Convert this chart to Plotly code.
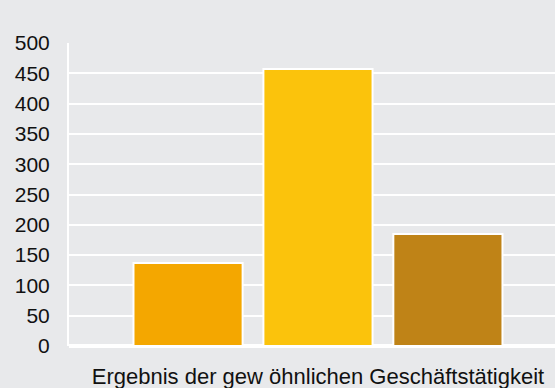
import plotly.graph_objects as go

category = ["Ergebnis der gew öhnlichen Geschäftstätigkeit"]
series_names = ["Serie 1", "Serie 2", "Serie 3"]
series_values = [[137], [457], [185]]
colors = ["#f4a700", "#fbc30c", "#bf8317"]
y_ticks = [0, 50, 100, 150, 200, 250, 300, 350, 400, 450, 500]

fig = go.Figure()
for name, vals, c in zip(series_names, series_values, colors):
    fig.add_trace(go.Bar(x=category, y=vals, name=name, marker=dict(color=c, line=dict(color="white", width=2))))

bg = "#e8e9eb"
fig.update_layout(
    width=555, height=388,
    margin=dict(l=69, r=0, t=43, b=42),
    paper_bgcolor=bg, plot_bgcolor=bg,
    showlegend=False,
    barmode="group", bargap=0.198, bargroupgap=0.16,
    font=dict(family="Liberation Sans, Arial, sans-serif", size=21, color="#111111"),
    xaxis=dict(range=[-0.5123, 0.4877], showgrid=False, ticks="", ticklabelstandoff=15,
               automargin=False, tickfont=dict(size=22)),
    yaxis=dict(range=[0, 500], tickvals=y_ticks, showgrid=True, gridcolor="white", gridwidth=2,
               zeroline=True, zerolinecolor="white", zerolinewidth=4,
               showline=True, linecolor="white", linewidth=2, automargin=False,
               ticks="", ticklabelstandoff=13, tickfont=dict(size=21)),
)
fig.write_html("out.html", config={"displayModeBar": False},
               post_script="document.body.style.margin='0';document.body.style.background='%s';" % bg)
